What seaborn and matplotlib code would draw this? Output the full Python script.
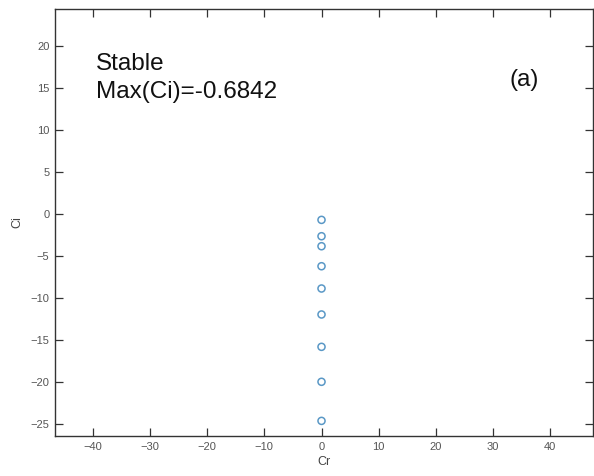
import matplotlib
matplotlib.use("Agg")
import matplotlib.pyplot as plt
import seaborn as sns
import pandas as pd

cr = [0, 0, 0, 0, 0, 0, 0, 0, 0]
ci = [-0.6842, -2.63, -3.82, -6.20, -8.85, -11.94, -15.79, -19.95, -24.6]
x_ticks = [-40, -30, -20, -10, 0, 10, 20, 30, 40]
y_ticks = [-25, -20, -15, -10, -5, 0, 5, 10, 15, 20]

df = pd.DataFrame({"Cr": cr, "Ci": ci})

sns.set_style("ticks")
plt.rcParams['font.family'] = ['Liberation Sans', 'DejaVu Sans']

fig = plt.figure(figsize=(5.94, 4.76), dpi=100)
ax = fig.add_axes([0.0926, 0.084, 0.906, 0.897])

sns.scatterplot(data=df, x="Cr", y="Ci", ax=ax, marker="o", s=26,
                facecolors="none", edgecolor="#5a98c6", linewidth=1.1)

ax.set_xlim(-46.6, 47.5)
ax.set_ylim(-26.4, 24.4)
ax.set_xticks(x_ticks)
ax.set_yticks(y_ticks)
ax.tick_params(direction="in", length=6, width=0.9, colors="#333333",
               labelcolor="#555555", labelsize=8, top=True, right=True,
               labeltop=False, labelright=False, pad=4)
for sp in ax.spines.values():
    sp.set_visible(True)
    sp.set_color("#333333")
    sp.set_linewidth(1.0)

ax.set_xlabel("Cr", fontsize=9, color="#444444", labelpad=3)
ax.set_ylabel("Ci", fontsize=9, color="#444444", labelpad=5)

ax.text(-39.5, 17.9, "Stable", fontsize=17.5, color="#111111", va="center")
ax.text(-39.5, 14.5, "Max(Ci)=-0.6842", fontsize=17.5, color="#111111", va="center")
ax.text(32.8, 15.9, "(a)", fontsize=17.5, color="#111111", va="center")

fig.savefig("out.png", dpi=100)
